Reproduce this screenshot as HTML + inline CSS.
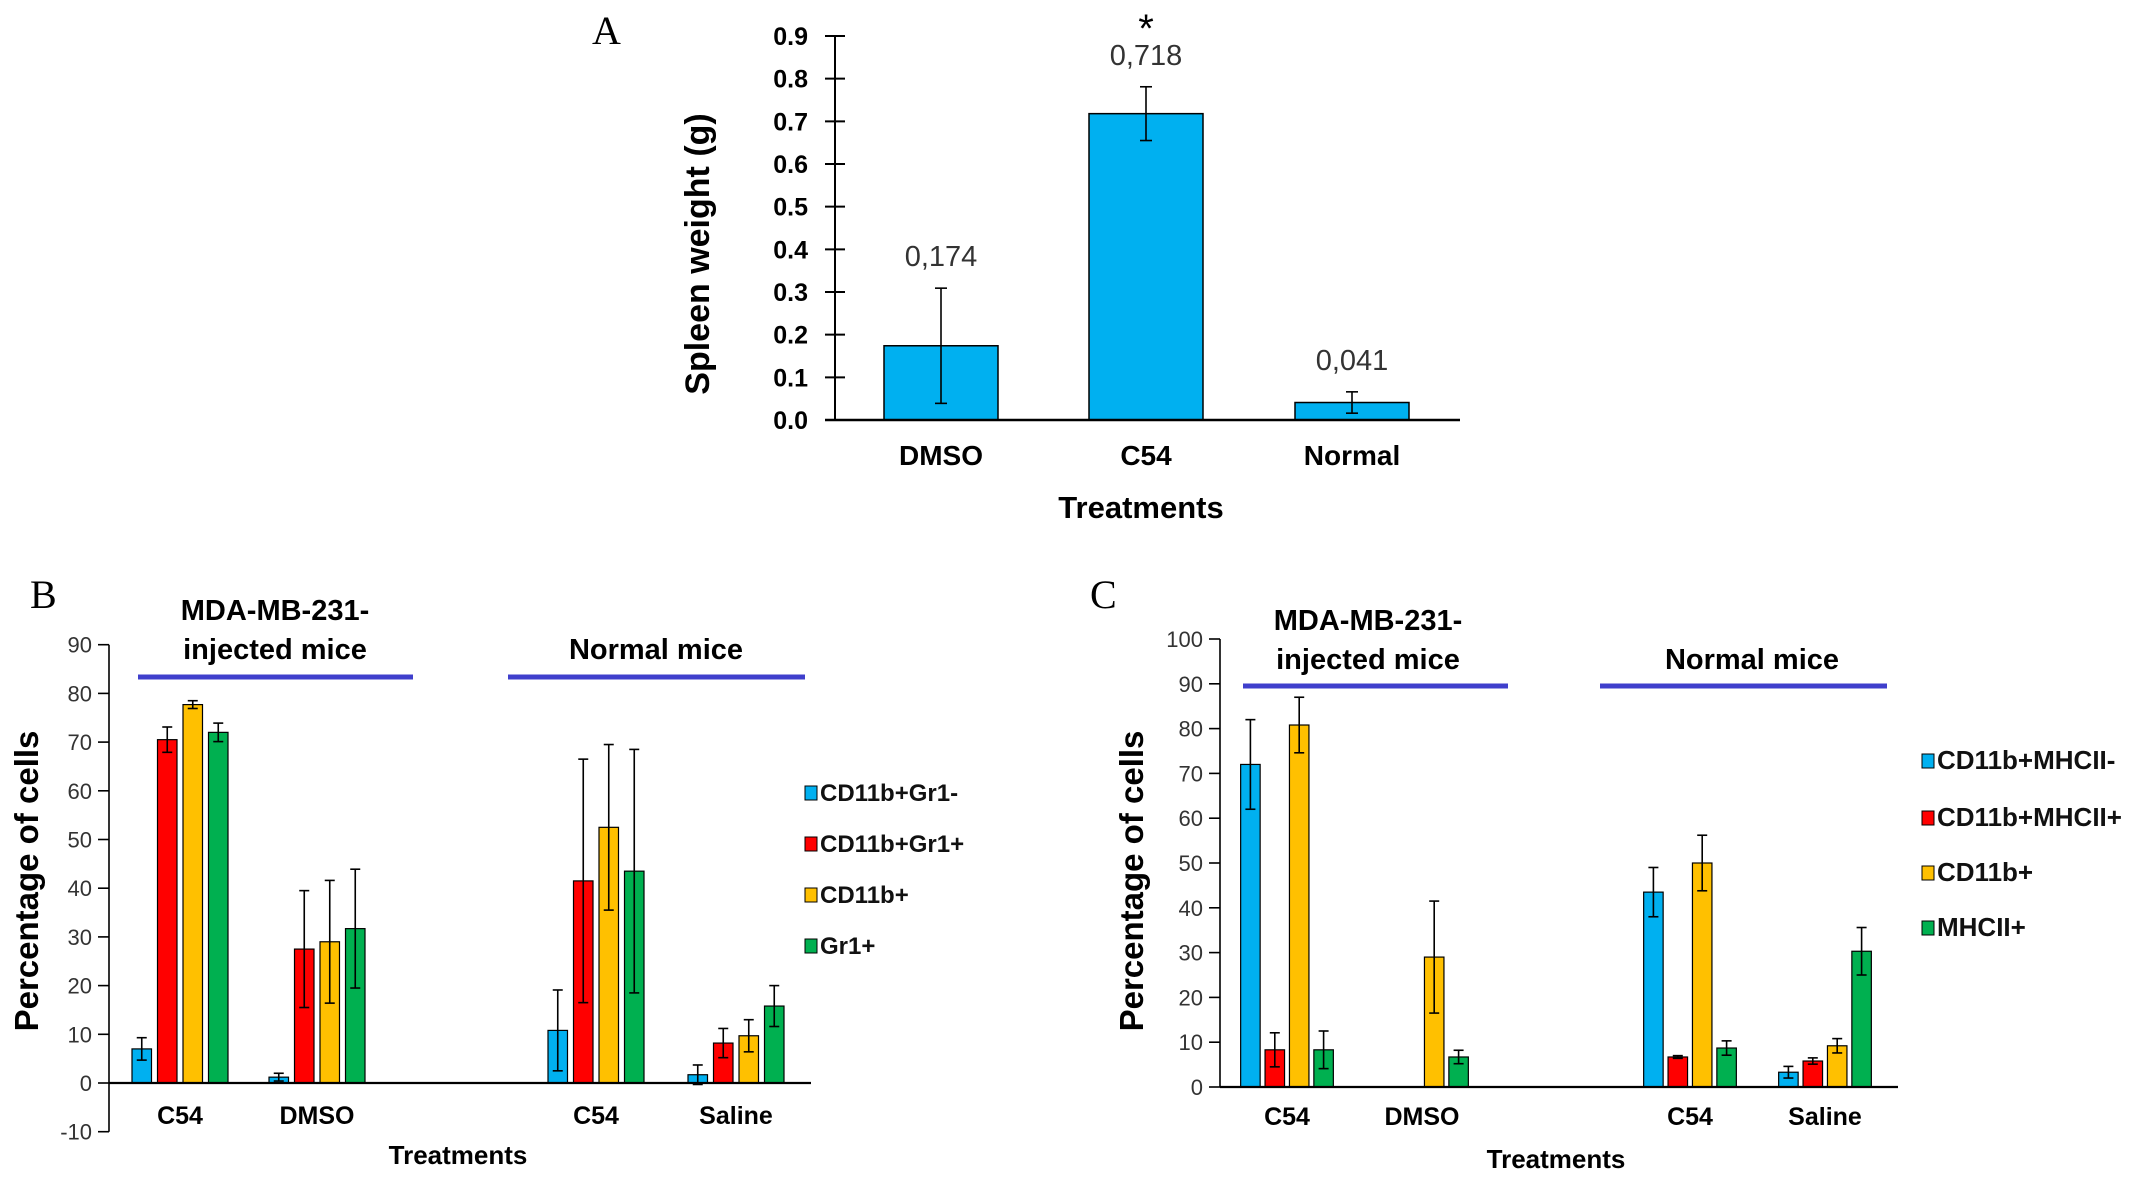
<!DOCTYPE html>
<html><head><meta charset="utf-8"><style>
html,body{margin:0;padding:0;background:#fff;}
svg{display:block;font-family:"Liberation Sans",Arial,sans-serif;}
.nar{font-family:"Liberation Sans Narrow","Liberation Sans",sans-serif;}
</style></head><body>
<svg id="fig" width="2150" height="1178" viewBox="0 0 2150 1178" xmlns="http://www.w3.org/2000/svg"></svg>
<script>
// ---- Panel A data ----
const aCategories = ["DMSO","C54","Normal"];
const aValues = [0.174,0.718,0.041];
const aErrors = [0.135,0.063,0.025];
const aLabels = ["0,174","0,718","0,041"];
const aTicks = ["0.0","0.1","0.2","0.3","0.4","0.5","0.6","0.7","0.8","0.9"];
// ---- Panel B data ----
const bCategories = ["C54","DMSO","C54","Saline"];
const bSeriesNames = ["CD11b+Gr1-","CD11b+Gr1+","CD11b+","Gr1+"];
const bGr1neg = [7,1.2,10.8,1.7];
const bGr1negErr = [2.3,0.8,8.3,2];
const bGr1pos = [70.5,27.5,41.5,8.2];
const bGr1posErr = [2.6,12,25,3];
const bCD11b = [77.7,29,52.5,9.7];
const bCD11bErr = [0.8,12.6,17,3.3];
const bGr1 = [72,31.7,43.5,15.8];
const bGr1Err = [1.9,12.2,25,4.2];
const bTicks = [-10,0,10,20,30,40,50,60,70,80,90];
// ---- Panel C data ----
const cCategories = ["C54","DMSO","C54","Saline"];
const cSeriesNames = ["CD11b+MHCII-","CD11b+MHCII+","CD11b+","MHCII+"];
const cMHCneg = [72,null,43.5,3.3];
const cMHCnegErr = [10,0,5.5,1.3];
const cMHCpos = [8.3,null,6.7,5.8];
const cMHCposErr = [3.8,0,0.3,0.7];
const cCD11b = [80.8,29,50,9.2];
const cCD11bErr = [6.2,12.5,6.2,1.6];
const cMHC = [8.3,6.7,8.7,30.3];
const cMHCErr = [4.2,1.5,1.6,5.3];
const cTicks = [0,10,20,30,40,50,60,70,80,90,100];

const COLORS = ["#00B0F0","#FF0000","#FFC000","#00B050"];
const NS = "http://www.w3.org/2000/svg";
const svg = document.getElementById('fig');
function mk(tag, attrs, parent, text){
  const e = document.createElementNS(NS, tag);
  for (const k in attrs) e.setAttribute(k, attrs[k]);
  if (text !== undefined) e.textContent = text;
  (parent||svg).appendChild(e);
  return e;
}
function errBar(g, x, y1, y2, cap){
  const e = mk('g',{},g);
  
  
  mk('line',{x1:x,x2:x,y1:y1,y2:y2,stroke:'#000','stroke-width':1.6},e);
  mk('line',{x1:x-cap,x2:x+cap,y1:y1,y2:y1,stroke:'#000','stroke-width':1.6},e);
  mk('line',{x1:x-cap,x2:x+cap,y1:y2,y2:y2,stroke:'#000','stroke-width':1.6},e);
}

// ================= Panel A =================
(function(){
  const g = mk('g',{});  
  const x0=835, x1=1460, yZero=420, yTop=36, vmax=0.9;
  const y = v => yZero - (v/vmax)*(yZero-yTop);
  const centers=[941,1146,1352], bw=114;
  const t = mk('text',{x:592,y:44,'font-family':'Liberation Serif,serif','font-size':40},g,'A');
   
  aTicks.forEach((lab,i)=>{
    const v=parseFloat(lab);
    mk('line',{x1:x0-10,x2:x0+10,y1:y(v),y2:y(v),stroke:'#000','stroke-width':2},g);
    const tx=mk('text',{x:808,y:y(v)+9,'text-anchor':'end','font-size':25,'font-weight':'bold'},g,lab);
     
  });
  aValues.forEach((v,i)=>{
    const r=mk('rect',{x:centers[i]-bw/2,y:y(v),width:bw,height:yZero-y(v),fill:'#00B0F0',stroke:'#000','stroke-width':1.5},g);
     
    errBar(g,centers[i],y(v+aErrors[i]),y(v-aErrors[i]),6);
    const lt=mk('text',{x:centers[i],y:y(v+aErrors[i])-22,'text-anchor':'middle','font-size':29,fill:'#333'},g,aLabels[i]);
     
    const cl=mk('text',{x:centers[i],y:465,'text-anchor':'middle','font-size':28,'font-weight':'bold'},g,aCategories[i]);
     
  });
  const st=mk('text',{x:1146,y:42,'text-anchor':'middle','font-size':40},g,'*');
   
  mk('line',{x1:x0,x2:x0,y1:yTop,y2:yZero,stroke:'#000','stroke-width':2},g);
  mk('line',{x1:x0-10,x2:x1,y1:yZero,y2:yZero,stroke:'#000','stroke-width':2.5},g);
  const xt=mk('text',{x:1141,y:518,'text-anchor':'middle','font-size':31,'font-weight':'bold'},g,'Treatments');
   
  const yt=mk('text',{x:0,y:0,'text-anchor':'middle','font-size':34,'font-weight':'bold',transform:'translate(709,254) rotate(-90)'},g,'Spleen weight (g)');
   
})();

// ================= Grouped panels =================
function grouped(cfg){
  const g = mk('g',{});  
  const {ax, ar, yZero, per10, ticks, centers, series, errs, cats, names} = cfg;
  const y = v => yZero - v/10*per10;
  const pl=mk('text',{x:cfg.letter[1],y:cfg.letter[2],'font-family':'Liberation Serif,serif','font-size':40},g,cfg.letter[0]);
   
  ticks.forEach(v=>{
    mk('line',{x1:ax-11,x2:ax,y1:y(v),y2:y(v),stroke:'#000','stroke-width':1.6},g);
    const tx=mk('text',{x:ax-17,y:y(v)+8,'text-anchor':'end','font-size':22,fill:'#333',class:'nar'},g,String(v));
     
  });
  const bw=19.5, step=cfg.step;
  series.forEach((s,si)=>{
    s.forEach((v,ci)=>{
      if (v===null) return;
      const cx=centers[ci]+(si-1.5)*step;
      const r=mk('rect',{x:cx-bw/2,y:Math.min(y(v),yZero),width:bw,height:Math.abs(yZero-y(v)),fill:COLORS[si],stroke:'#000','stroke-width':1.2},g);
      
      
      if (errs[si][ci]>0) errBar(g,cx,y(v+errs[si][ci]),y(v-errs[si][ci]),5);
    });
  });
  mk('line',{x1:ax,x2:ax,y1:y(ticks[ticks.length-1]),y2:y(ticks[0]),stroke:'#000','stroke-width':1.6},g);
  mk('line',{x1:ax,x2:ar,y1:yZero,y2:yZero,stroke:'#000','stroke-width':2.2},g);
  cats.forEach((c,i)=>{
    const t=mk('text',{x:centers[i],y:cfg.catY,'text-anchor':'middle','font-size':25,'font-weight':'bold'},g,c);
     
  });
  const xt=mk('text',{x:cfg.xtitle[0],y:cfg.xtitle[1],'text-anchor':'middle','font-size':26,'font-weight':'bold'},g,'Treatments');
   
  const yt=mk('text',{x:0,y:0,'text-anchor':'middle','font-size':33,'font-weight':'bold',transform:`translate(${cfg.ytitle[0]},${cfg.ytitle[1]}) rotate(-90)`},g,'Percentage of cells');
   
  cfg.lines.forEach((L,i)=>{
    const l=mk('line',{x1:L[0],x2:L[1],y1:L[2],y2:L[2],stroke:'#3F3FCC','stroke-width':5},g);
     
  });
  cfg.glabels.forEach(G=>{
    const t=mk('text',{x:G[0],y:G[1],'text-anchor':'middle','font-size':29,'font-weight':'bold'},g,G[2]);
     
  });
  names.forEach((n,i)=>{
    const e=mk('g',{},g);  
    const yy=cfg.legY[i];
    mk('rect',{x:cfg.legX,y:yy-6,width:12,height:14,fill:COLORS[i],stroke:'#000','stroke-width':1},e);
    mk('text',{x:cfg.legX+15,y:yy+9,'font-size':cfg.legFont,'font-weight':'bold',fill:'#111'},e,n);
  });
}
grouped({name:'panel-b', letter:['B',30,608], ax:109, ar:811, yZero:1083, per10:48.7, ticks:bTicks,
  centers:[180,317,596,736], step:25.5,
  series:[bGr1neg,bGr1pos,bCD11b,bGr1], errs:[bGr1negErr,bGr1posErr,bCD11bErr,bGr1Err],
  cats:bCategories, names:bSeriesNames, catY:1124, xtitle:[458,1164], ytitle:[38,881],
  lines:[[138,413,677],[508,805,677]],
  glabels:[[275,620,'MDA-MB-231-'],[275,659,'injected mice'],[656,659,'Normal mice']],
  legX:805, legY:[792,843,894,945], legFont:24});
grouped({name:'panel-c', letter:['C',1090,608], ax:1220, ar:1898, yZero:1087, per10:44.8, ticks:cTicks,
  centers:[1287,1422,1690,1825], step:24.4,
  series:[cMHCneg,cMHCpos,cCD11b,cMHC], errs:[cMHCnegErr,cMHCposErr,cCD11bErr,cMHCErr],
  cats:cCategories, names:cSeriesNames, catY:1125, xtitle:[1556,1168], ytitle:[1143,881],
  lines:[[1243,1508,686],[1600,1887,686]],
  glabels:[[1368,630,'MDA-MB-231-'],[1368,669,'injected mice'],[1752,669,'Normal mice']],
  legX:1922, legY:[760,817,872,927], legFont:26});
</script>
</body></html>
